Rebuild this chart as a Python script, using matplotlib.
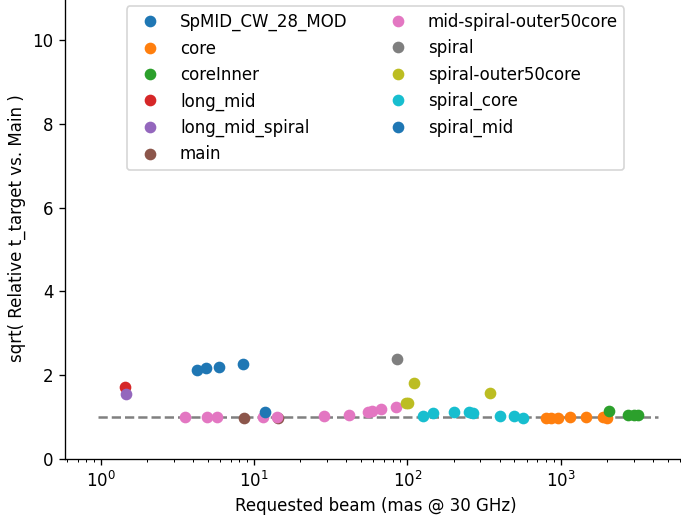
import matplotlib
matplotlib.use("Agg")
import matplotlib.pyplot as plt

# requested beam (mas) and sqrt(relative t_target) per configuration
spmid_x = [4.2, 4.8, 5.9, 8.4]
spmid_y = [2.12, 2.17, 2.19, 2.26]
core_x = [798, 861, 956, 1145, 1456, 1883, 1997]
core_y = [0.98, 0.98, 0.98, 1.0, 1.0, 1.0, 0.98]
coreinner_x = [2060, 2740, 3000, 3190]
coreinner_y = [1.15, 1.05, 1.05, 1.04]
long_mid_x = [1.44]
long_mid_y = [1.72]
long_mid_spiral_x = [1.46]
long_mid_spiral_y = [1.55]
main_x = [8.6, 14.2]
main_y = [0.97, 0.97]
midspiral_x = [3.5, 4.9, 5.7, 11.4, 14.0, 28.7, 41.8, 55.6, 59.0, 67.6, 84.8]
midspiral_y = [1.0, 1.0, 1.0, 1.0, 1.0, 1.02, 1.05, 1.12, 1.14, 1.19, 1.24]
spiral_x = [85.0]
spiral_y = [2.38]
spiral_outer_x = [98.5, 101.5, 111.0, 344.0]
spiral_outer_y = [1.33, 1.33, 1.81, 1.57]
spiral_core_x = [127, 146, 200, 251, 270, 405, 493, 573]
spiral_core_y = [1.02, 1.09, 1.12, 1.12, 1.09, 1.02, 1.02, 0.98]
spiral_mid_x = [11.8]
spiral_mid_y = [1.12]

series = [
    ("SpMID_CW_28_MOD", spmid_x, spmid_y),
    ("core", core_x, core_y),
    ("coreInner", coreinner_x, coreinner_y),
    ("long_mid", long_mid_x, long_mid_y),
    ("long_mid_spiral", long_mid_spiral_x, long_mid_spiral_y),
    ("main", main_x, main_y),
    ("mid-spiral-outer50core", midspiral_x, midspiral_y),
    ("spiral", spiral_x, spiral_y),
    ("spiral-outer50core", spiral_outer_x, spiral_outer_y),
    ("spiral_core", spiral_core_x, spiral_core_y),
    ("spiral_mid", spiral_mid_x, spiral_mid_y),
]

ref_x = [0.95, 4300]
ref_y = [1, 1]

fig = plt.figure(figsize=(681 / 120, 527 / 120), dpi=120)
ax = fig.add_axes([65 / 681, 68 / 527, 621 / 681, 461 / 527])

ax.plot(ref_x, ref_y, "--", color="gray")
for name, xs, ys in series:
    ax.plot(xs, ys, "o", label=name)

ax.set_xscale("log")
ax.set_xlim(0.58, 6600)
ax.set_ylim(0, 11)
ax.set_xlabel("Requested beam (mas @ 30 GHz)")
ax.set_ylabel("sqrt( Relative t_target vs. Main )")
ax.legend(loc="upper center", ncol=2)

fig.savefig("out.png", dpi=120)
